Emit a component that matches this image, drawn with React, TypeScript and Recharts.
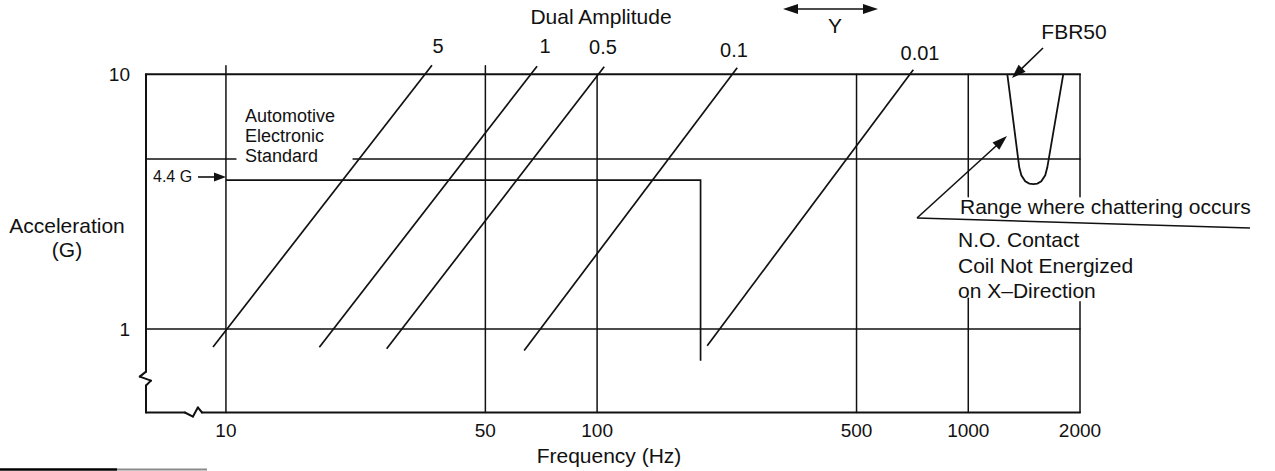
import React from 'react';
import { ScatterChart, Scatter, XAxis, YAxis, ReferenceLine } from 'recharts';

// ---------- data ----------
const frequencyTicks = [10, 50, 100, 500, 1000, 2000];
const accelerationTicks = [1, 10];
const frequencyDomain = [6.09, 2000];
const accelerationDomain = [0.47, 12];

// constant dual-amplitude lines (mm): end points (Hz, G)
const amplitudeLabels = ['5', '1', '0.5', '0.1', '0.01'];
const amplitude5 = [{ f: 9.23, g: 0.85 }, { f: 35.9, g: 10.85 }];
const amplitude1 = [{ f: 17.85, g: 0.848 }, { f: 68.9, g: 10.75 }];
const amplitude05 = [{ f: 27.1, g: 0.837 }, { f: 104.5, g: 10.7 }];
const amplitude01 = [{ f: 63.6, g: 0.823 }, { f: 238.5, g: 10.6 }];
const amplitude001 = [{ f: 198, g: 0.86 }, { f: 711, g: 10.4 }];
const amplitudeSeries = [amplitude5, amplitude1, amplitude05, amplitude01, amplitude001];

// 4.4 G test profile (step)
const stepProfile = [{ f: 10, g: 3.84 }, { f: 190, g: 3.84 }, { f: 190, g: 0.751 }];

// FBR50 chattering boundary
const fbr50Curve = [
  { f: 1274, g: 10 },
  { f: 1372, g: 4.31 },
  { f: 1390, g: 4.01 },
  { f: 1424, g: 3.8 },
  { f: 1460, g: 3.72 },
  { f: 1497, g: 3.7 },
  { f: 1535, g: 3.72 },
  { f: 1573, g: 3.8 },
  { f: 1612, g: 4.01 },
  { f: 1633, g: 4.31 },
  { f: 1803, g: 10 },
];

// Automotive electronic standard level (G)
const automotiveLevel = 4.65;

// frame and grid polylines (Hz, G)
const topBorder = [{ f: 6.09, g: 10 }, { f: 2000, g: 10 }];
const oneGLine = [{ f: 6.09, g: 1 }, { f: 2000, g: 1 }];
const bottomBorder = [
  { f: 6.09, g: 0.47 }, { f: 7.75, g: 0.47 }, { f: 8.15, g: 0.453 },
  { f: 8.4, g: 0.492 }, { f: 8.62, g: 0.47 }, { f: 2000, g: 0.47 },
];
const leftBorder = [
  { f: 6.09, g: 10 }, { f: 6.09, g: 0.68 }, { f: 5.86, g: 0.65 },
  { f: 6.28, g: 0.627 }, { f: 6.09, g: 0.6 }, { f: 6.09, g: 0.47 },
];
const automotiveLeft = [{ f: 6.09, g: automotiveLevel }, { f: 10.64, g: automotiveLevel }];
const automotiveRight = [{ f: 22, g: automotiveLevel }, { f: 2000, g: automotiveLevel }];
const grid10 = [{ f: 10, g: 10.8 }, { f: 10, g: 0.47 }];
const grid50 = [{ f: 50, g: 10.8 }, { f: 50, g: 0.47 }];
const grid100 = [{ f: 100, g: 10 }, { f: 100, g: 0.47 }];
const grid500 = [{ f: 500, g: 10 }, { f: 500, g: 0.47 }];
const grid1000Upper = [{ f: 1000, g: 10 }, { f: 1000, g: 3.3 }];
const grid1000Lower = [{ f: 1000, g: 1.32 }, { f: 1000, g: 0.47 }];
const grid2000Upper = [{ f: 2000, g: 10 }, { f: 2000, g: 3.3 }];
const grid2000Lower = [{ f: 2000, g: 1.28 }, { f: 2000, g: 0.47 }];

// ---------- styling ----------
const INK = '#111';
const FONT = '"Liberation Sans", Arial, Helvetica, sans-serif';

type P = { f: number; g: number };

const thinLines: P[][] = [
  oneGLine, automotiveLeft, automotiveRight,
  grid10, grid50, grid100, grid500,
  grid1000Upper, grid1000Lower, grid2000Upper, grid2000Lower,
];
const heavyLines: P[][] = [topBorder, bottomBorder, leftBorder];

function segments(lines: P[][], width: number, prefix: string) {
  const out: React.ReactElement[] = [];
  lines.forEach((pts, i) => {
    for (let k = 0; k < pts.length - 1; k++) {
      out.push(
        <ReferenceLine
          key={`${prefix}-${i}-${k}`}
          segment={[{ x: pts[k].f, y: pts[k].g }, { x: pts[k + 1].f, y: pts[k + 1].g }]}
          stroke={INK}
          strokeWidth={width}
          ifOverflow="visible"
          strokeLinecap="round"
        />
      );
    }
  });
  return out;
}

const noMarker = () => <g />;

function Arrow({ x1, y1, x2, y2, len = 14, half = 5, both = false }: any) {
  const dx = x2 - x1;
  const dy = y2 - y1;
  const L = Math.hypot(dx, dy);
  const ux = dx / L;
  const uy = dy / L;
  const px = -uy;
  const py = ux;
  const head = (tx: number, ty: number, dirx: number, diry: number) => {
    const bx = tx - dirx * len;
    const by = ty - diry * len;
    return `${tx},${ty} ${bx + px * half},${by + py * half} ${bx - px * half},${by - py * half}`;
  };
  const sx = both ? x1 + ux * (len - 2) : x1;
  const sy = both ? y1 + uy * (len - 2) : y1;
  return (
    <g>
      <line x1={sx} y1={sy} x2={x2 - ux * (len - 2)} y2={y2 - uy * (len - 2)} stroke={INK} strokeWidth={1.6} />
      <polygon points={head(x2, y2, ux, uy)} fill={INK} />
      {both && <polygon points={head(x1, y1, -ux, -uy)} fill={INK} />}
    </g>
  );
}

const amplitudeLabelPos = [
  { x: 438, y: 53 },
  { x: 545, y: 53 },
  { x: 603, y: 54 },
  { x: 734, y: 57 },
  { x: 920, y: 60 },
];

export default function App() {
  return (
    <div style={{ position: 'relative', width: 1275, height: 471, background: '#fff', overflow: 'hidden' }}>
      <style>{'body{margin:0;}'}</style>
      <ScatterChart width={1275} height={471} margin={{ top: 54, right: 195, bottom: 28.5, left: 86 }}>
        <XAxis
          type="number"
          dataKey="f"
          scale="log"
          domain={frequencyDomain}
          ticks={frequencyTicks}
          allowDataOverflow
          interval={0}
          axisLine={false}
          tickLine={false}
          tickSize={0}
          tickMargin={11}
          height={30}
          tick={{ fontSize: 19, fill: INK, fontFamily: FONT }}
        />
        <YAxis
          type="number"
          dataKey="g"
          scale="log"
          domain={accelerationDomain}
          ticks={accelerationTicks}
          allowDataOverflow
          interval={0}
          axisLine={false}
          tickLine={false}
          tickSize={0}
          tickMargin={16}
          width={60}
          tick={{ fontSize: 19, fill: INK, fontFamily: FONT }}
        />
        {segments(thinLines, 1.5, 'thin')}
        {segments(heavyLines, 2, 'heavy')}
        {amplitudeSeries.map((s, i) => (
          <Scatter
            key={`amp-${i}`}
            name={amplitudeLabels[i]}
            data={s}
            line={{ stroke: INK, strokeWidth: 1.7 }}
            lineType="joint"
            shape={noMarker}
            legendType="none"
            isAnimationActive={false}
          />
        ))}
        <Scatter
          name="4.4 G"
          data={stepProfile}
          line={{ stroke: INK, strokeWidth: 1.7 }}
          lineType="joint"
          shape={noMarker}
          legendType="none"
          isAnimationActive={false}
        />
        <Scatter
          name="FBR50"
          data={fbr50Curve}
          line={{ stroke: INK, strokeWidth: 1.8 }}
          lineType="joint"
          shape={noMarker}
          legendType="none"
          isAnimationActive={false}
        />
      </ScatterChart>
      <svg
        width={1275}
        height={471}
        style={{ position: 'absolute', left: 0, top: 0, pointerEvents: 'none' }}
        fontFamily={FONT}
        fill={INK}
      >
        <text x={601} y={24} fontSize={21} textAnchor="middle">Dual Amplitude</text>
        <Arrow x1={783} y1={9} x2={878} y2={9} len={15} half={5} both />
        <text x={835} y={33} fontSize={21} textAnchor="middle">Y</text>
        {amplitudeLabels.map((t, i) => (
          <text key={t} x={amplitudeLabelPos[i].x} y={amplitudeLabelPos[i].y} fontSize={20} textAnchor="middle">{t}</text>
        ))}
        <text x={1074} y={39} fontSize={21} textAnchor="middle">FBR50</text>
        <Arrow x1={1043} y1={48} x2={1012} y2={78} len={14} half={5} />
        <text x={245} y={122} fontSize={18}>Automotive</text>
        <text x={245} y={142} fontSize={18}>Electronic</text>
        <text x={245} y={162} fontSize={18}>Standard</text>
        <text x={153} y={182} fontSize={16}>4.4 G</text>
        <Arrow x1={198} y1={177} x2={226} y2={177} len={12} half={4.5} />
        <text x={67} y={233} fontSize={21} textAnchor="middle">Acceleration</text>
        <text x={67} y={257} fontSize={21} textAnchor="middle">(G)</text>
        <text x={609} y={463} fontSize={21} textAnchor="middle">Frequency (Hz)</text>
        <line x1={917} y1={218} x2={1250} y2={228} stroke={INK} strokeWidth={1.6} />
        <Arrow x1={917} y1={218} x2={1007} y2={136} len={15} half={5} />
        <text x={960} y={214} fontSize={21}>Range where chattering occurs</text>
        <text x={958} y={247} fontSize={21}>N.O. Contact</text>
        <text x={958} y={273} fontSize={21}>Coil Not Energized</text>
        <text x={958} y={298} fontSize={21}>on X–Direction</text>
        <line x1={0} y1={469.5} x2={117} y2={469.5} stroke="#000" strokeWidth={2.5} />
        <line x1={117} y1={469.5} x2={207} y2={469.5} stroke="#8a8a8a" strokeWidth={2} />
      </svg>
    </div>
  );
}
